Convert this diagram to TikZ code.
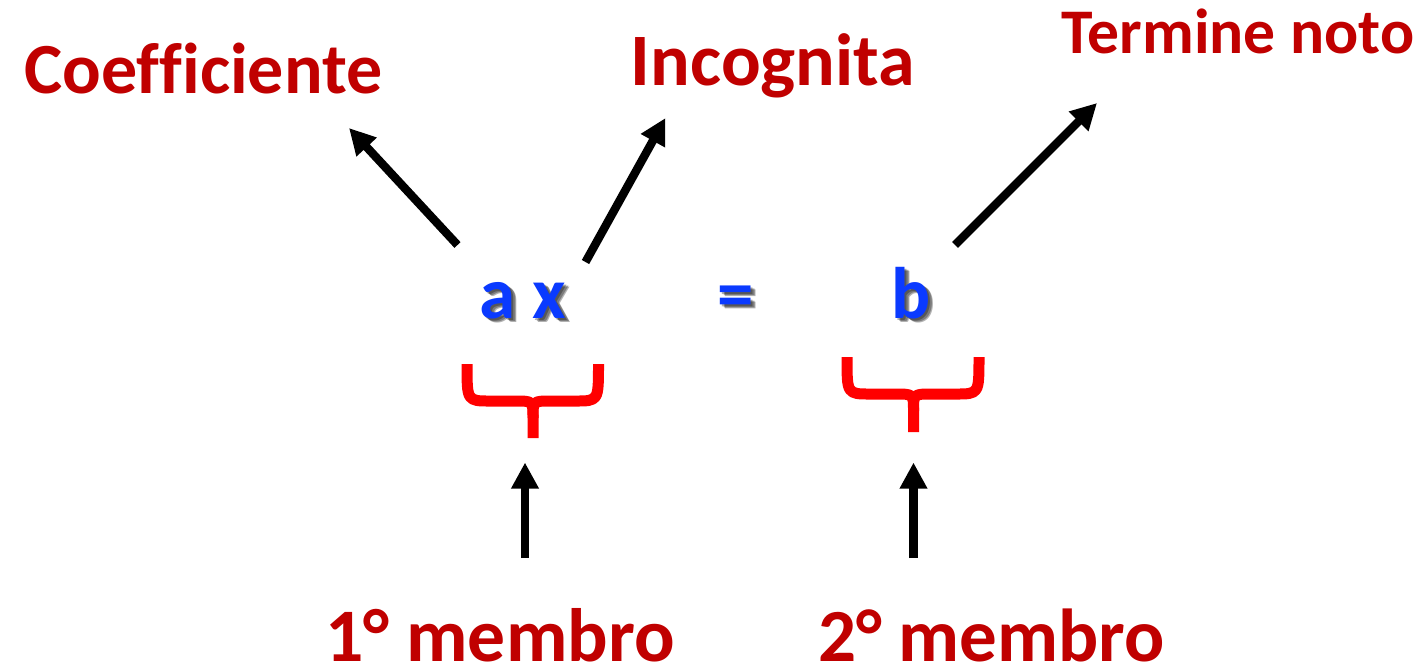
\documentclass[tikz,border=0pt]{standalone}
\usepackage{fontspec}
\setmainfont{Carlito}[Ligatures=NoCommon]
\usetikzlibrary{arrows.meta}
\definecolor{lblred}{HTML}{C00000}
\definecolor{eqblue}{HTML}{0A3AFF}
\definecolor{brred}{HTML}{FF0000}
\tikzset{
  lbl/.style={text=lblred, font=\bfseries\fontsize{#1}{#1}\selectfont, inner sep=0pt, anchor=base},
  eqt/.style={text=eqblue, font=\bfseries\fontsize{36.5}{36.5}\selectfont, inner sep=0pt, anchor=base},
  eqsh/.style={text=black, opacity=0.3, font=\bfseries\fontsize{36.5}{36.5}\selectfont, inner sep=0pt, anchor=base},
  arr/.style={line width=4.2pt, -{Triangle[length=13pt,width=13pt]}},
  brace/.style={draw=brred, line width=5.5pt, line join=round}
}
\begin{document}
\begin{tikzpicture}[x=0.5pt,y=-0.5pt]
\useasboundingbox (0,0) rectangle (1425,671);
% labels
\node[lbl=36] (coef) at (203.5,93) {Coef\kern0ptf\kern0pticiente};
\node[lbl=37] (inc) at (773,85) {Incognita};
\node[lbl=31.8] (tn) at (1238,53) {Termine noto};
\node[lbl=37.8, text depth=0pt] (m1) at (500,661) {1° membro};
\node[lbl=37.5, text depth=0pt] (m2) at (991.5,661) {2° membro};
% equation with shadows
\foreach \dx/\dy in {2/2,3.5/3.5,4.5/4}{
  \node[eqsh] at (523+\dx,318+\dy) {a x};
  \node[eqsh] at (736+\dx,318+\dy) {=};
  \node[eqsh] at (911.5+\dx,318+\dy) {b};
}
\node[eqt] (ax) at (523,318) {a x};
\node[eqt] (eq) at (736,318) {=};
\node[eqt] (b) at (911.5,318) {b};
% arrow coordinates
\coordinate (t1) at (457.5,245);  \coordinate (h1) at (349,128);
\coordinate (t2) at (585.5,262);  \coordinate (h2) at (665.5,118);
\coordinate (t3) at (955,245);    \coordinate (h3) at (1097,103);
\coordinate (t4) at (525,558);    \coordinate (h4) at (525,462.5);
\coordinate (t5) at (913.5,558);  \coordinate (h5) at (913.5,462.5);
\draw[arr] (t1) -- (h1);
\draw[arr] (t2) -- (h2);
\draw[arr] (t3) -- (h3);
\draw[arr] (t4) -- (h4);
\draw[arr] (t5) -- (h5);
% braces
\draw[brace] (467,364) .. controls (467,401) .. (490,401) -- (515,401) .. controls (533,401) .. (533,418) -- (533,438);
\draw[brace] (598.5,364) .. controls (598.5,401) .. (575.5,401) -- (551,401) .. controls (533,401) .. (533,418);
\draw[brace] (847,357) .. controls (847,394) .. (870,394) -- (895,394) .. controls (913.5,394) .. (913.5,411) -- (913.5,432);
\draw[brace] (979,357) .. controls (979,394) .. (956,394) -- (932,394) .. controls (913.5,394) .. (913.5,411);
\end{tikzpicture}
\end{document}
